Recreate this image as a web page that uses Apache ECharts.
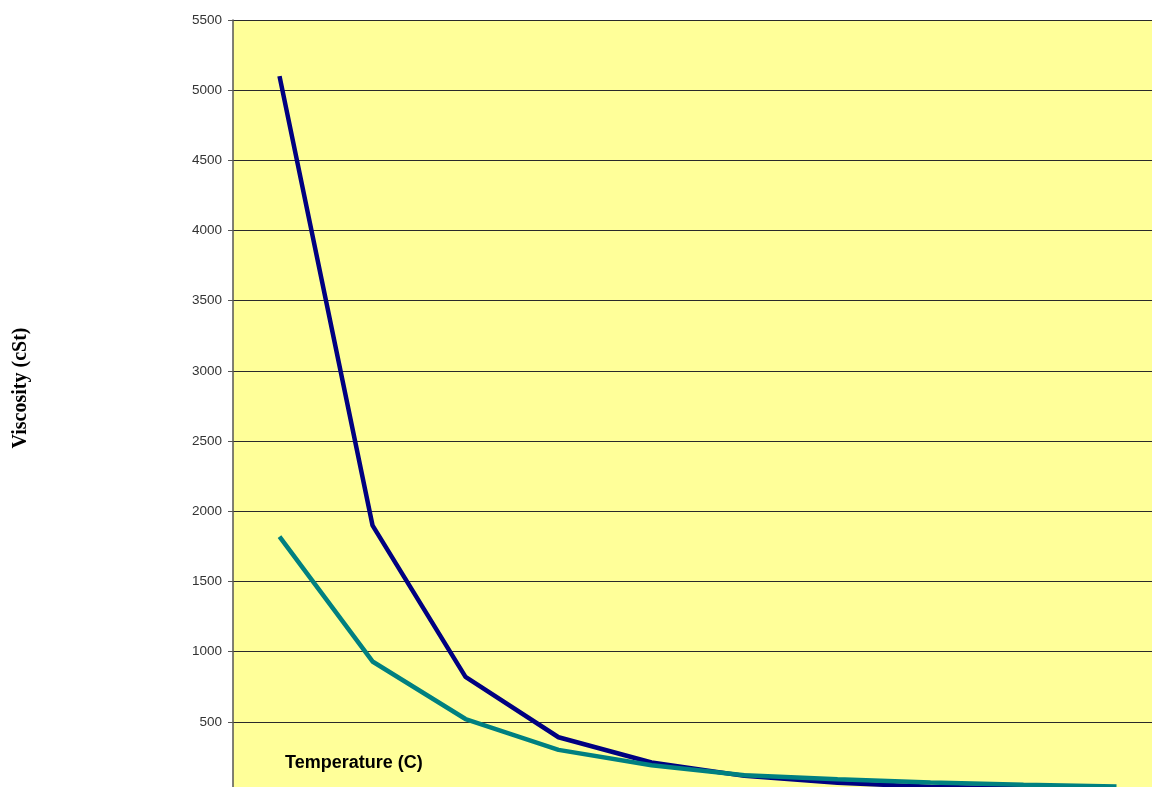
<!DOCTYPE html>
<html>
<head>
<meta charset="utf-8">
<script src="https://cdn.jsdelivr.net/npm/echarts@6/dist/echarts.min.js"></script>
<style>
html,body{margin:0;padding:0;background:#fff;overflow:hidden;}
#chart{width:1152px;height:787px;}
</style>
</head>
<body>
<div id="chart"></div>
<script>
const categories = ['10', '20', '30', '40', '50', '60', '70', '80', '90', '100'];
const seriesNavy = [5100, 1900, 820, 390, 210, 115, 65, 38, 25, 18];
const seriesTeal = [1820, 930, 520, 300, 190, 120, 90, 68, 52, 40];
const yTicks = { min: 0, max: 5500, interval: 500 };
const yTitle = 'Viscosity (cSt)';
const xTitle = 'Temperature (C)';

const chart = echarts.init(document.getElementById('chart'), null, { renderer: 'canvas' });
chart.setOption({
  animation: false,
  backgroundColor: '#ffffff',
  grid: {
    left: 233, top: 20, right: -11, bottom: -5,
    containLabel: false,
    outerBoundsMode: 'none',
    show: true, backgroundColor: '#FFFF99', borderWidth: 0
  },
  xAxis: {
    type: 'category',
    data: categories,
    boundaryGap: true,
    axisLabel: { show: false },
    axisTick: { show: false },
    axisLine: { show: true, lineStyle: { color: '#555', width: 1 } },
    splitLine: { show: false }
  },
  yAxis: {
    type: 'value',
    min: yTicks.min, max: yTicks.max, interval: yTicks.interval,
    axisLine: { show: true, lineStyle: { color: '#555', width: 1.5 } },
    axisTick: { show: true, length: 5, inside: false, lineStyle: { color: '#555', width: 1 } },
    axisLabel: {
      fontFamily: 'Liberation Sans', fontSize: 13.5, color: '#333', margin: 11,
      formatter: function (v) { return String(v); }
    },
    splitLine: { show: true, lineStyle: { color: '#2a2a2a', width: 1 } }
  },
  graphic: [
    {
      type: 'text',
      left: 285, top: 754,
      style: { text: xTitle, font: 'bold 18px "Liberation Sans", Arial, sans-serif', fill: '#000' }
    },
    {
      type: 'text',
      x: 21, y: 388,
      rotation: Math.PI / 2,
      style: {
        text: yTitle, font: 'bold 20px "Liberation Serif", "Times New Roman", serif', fill: '#000',
        align: 'center', verticalAlign: 'middle'
      }
    }
  ],
  series: [
    {
      type: 'line', data: seriesNavy, symbol: 'none',
      lineStyle: { color: '#000080', width: 4.5 }, itemStyle: { color: '#000080' }
    },
    {
      type: 'line', data: seriesTeal, symbol: 'none',
      lineStyle: { color: '#008080', width: 4.5 }, itemStyle: { color: '#008080' }
    }
  ]
});
</script>
</body>
</html>
